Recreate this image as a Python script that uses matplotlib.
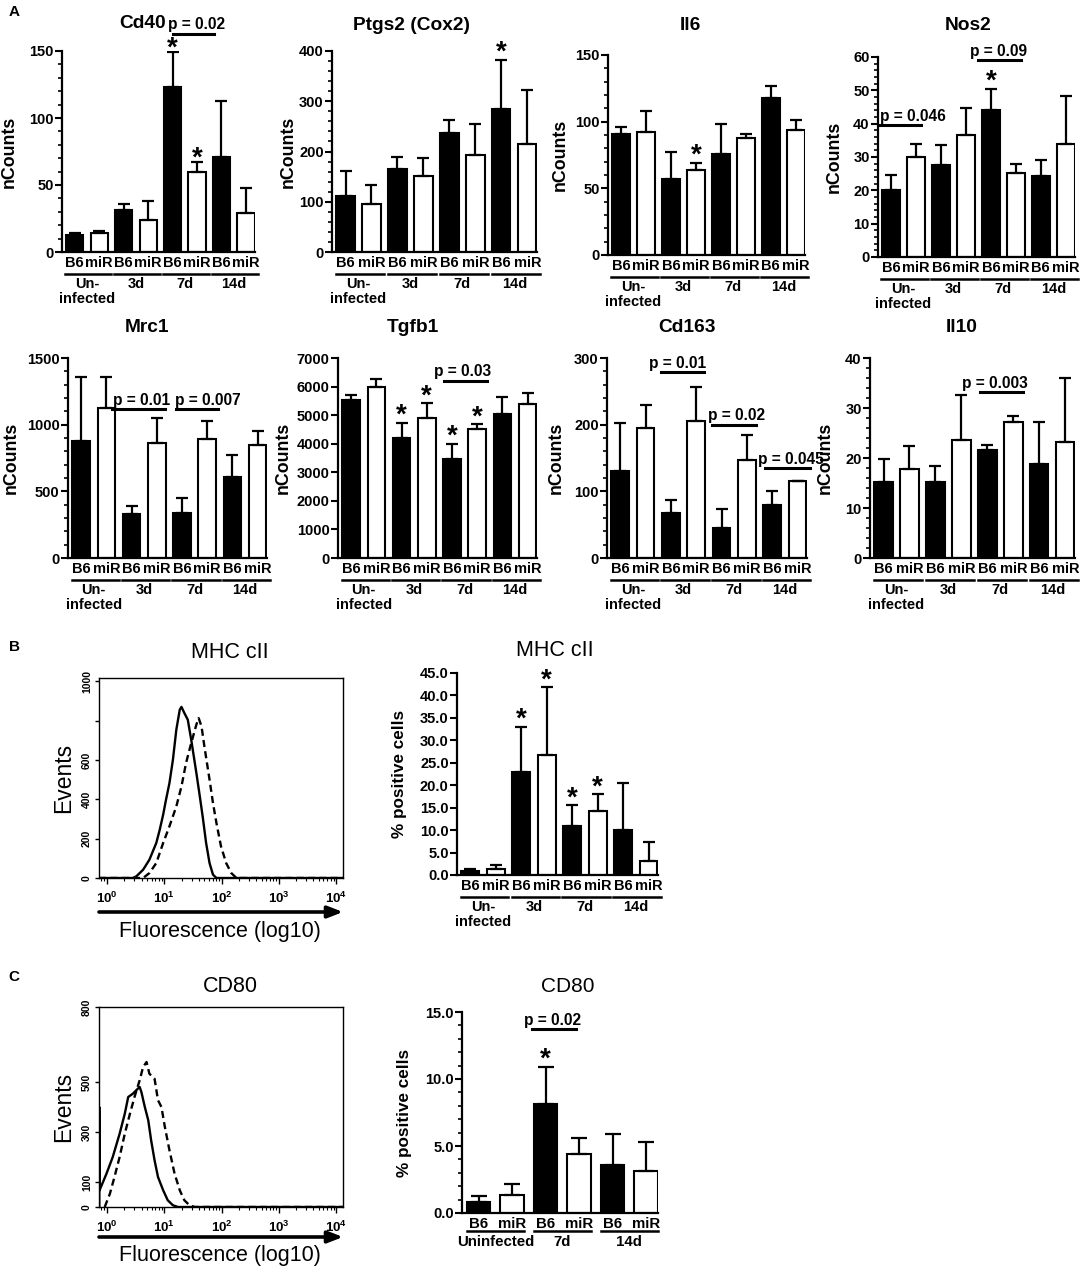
import numpy as np
import matplotlib
matplotlib.use('Agg')
import matplotlib.pyplot as plt
from matplotlib.ticker import MultipleLocator, NullLocator

plt.rcParams['font.family'] = ['Liberation Sans', 'DejaVu Sans']
plt.rcParams['mathtext.fontset'] = 'custom'
plt.rcParams['mathtext.rm'] = 'Liberation Sans'
plt.rcParams['mathtext.bf'] = 'Liberation Sans:bold'

W, H = 1084, 1270

# ---------------- data ----------------
strains = ['B6', 'miR']
time_groups = ['Un-\ninfected', '3d', '7d', '14d']
cd80_groups = ['Uninfected', '7d', '14d']

cd40_mean = [13, 14, 31, 24, 123, 60, 71, 29]
cd40_err = [1, 2, 5, 14, 26, 7, 42, 19]
ptgs2_mean = [112, 95, 165, 152, 236, 193, 284, 215]
ptgs2_err = [50, 38, 25, 36, 27, 61, 98, 107]
il6_mean = [91, 92, 57, 64, 76, 88, 118, 94]
il6_err = [5, 16, 20, 5, 22, 3, 9, 7]
nos2_mean = [20, 30, 27.7, 36.7, 44.2, 25.3, 24.2, 33.8]
nos2_err = [4.5, 4, 6, 8.1, 6.3, 2.7, 5, 14.5]

mrc1_mean = [880, 1125, 330, 860, 340, 890, 610, 845]
mrc1_err = [475, 230, 60, 190, 110, 140, 165, 105]
tgfb1_mean = [5530, 5980, 4200, 4890, 3470, 4530, 5040, 5400]
tgfb1_err = [190, 270, 530, 520, 530, 150, 610, 360]
cd163_mean = [130, 195, 68, 205, 45, 147, 80, 115]
cd163_err = [73, 35, 19, 52, 28, 38, 20, 1]
il10_mean = [15.3, 17.9, 15.3, 23.7, 21.6, 27.3, 18.9, 23.3]
il10_err = [4.5, 4.5, 3.1, 8.9, 1.0, 1.1, 8.3, 12.8]

mhc_mean = [1.0, 1.4, 23.0, 26.7, 11.0, 14.2, 10.1, 3.1]
mhc_err = [0.4, 0.9, 10.0, 15.1, 4.5, 3.8, 10.5, 4.3]
cd80_mean = [0.85, 1.35, 8.1, 4.4, 3.6, 3.1]
cd80_err = [0.45, 0.85, 2.8, 1.2, 2.3, 2.2]

# flow histograms: log10 fluorescence, events
mhc_solid_x = [-0.14, 0.45, 0.51, 0.63, 0.74, 0.86, 0.92, 0.98, 1.03, 1.09, 1.15, 1.21, 1.27,
               1.30, 1.35, 1.41, 1.47, 1.56, 1.62, 1.67, 1.73, 1.79, 1.85, 1.91, 4.12]
mhc_solid_y = [0, 0, 8, 42, 93, 178, 245, 322, 398, 483, 600, 754, 856,
               870, 839, 805, 703, 534, 415, 313, 178, 76, 17, 0, 0]
mhc_dash_x = [-0.14, 0.63, 0.74, 0.86, 0.98, 1.09, 1.21, 1.30, 1.38, 1.47, 1.56, 1.60, 1.65,
              1.70, 1.79, 1.85, 1.91, 1.99, 2.08, 2.17, 2.26, 4.12]
mhc_dash_y = [0, 0, 25, 76, 178, 263, 364, 466, 585, 686, 780, 813, 771,
              669, 500, 381, 280, 161, 76, 25, 0, 0]

cd80_solid_x = [-0.135, -0.135, -0.13, -0.01, 0.10, 0.22, 0.31, 0.37, 0.45, 0.51, 0.57, 0.60,
                0.66, 0.72, 0.77, 0.83, 0.89, 0.98, 1.06, 1.15, 1.24, 4.12]
cd80_solid_y = [0, 400, 67, 133, 200, 293, 373, 440, 453, 467, 480, 460,
                400, 347, 267, 187, 120, 67, 27, 7, 0, 0]
cd80_dash_x = [-0.04, 0.05, 0.13, 0.22, 0.31, 0.40, 0.48, 0.57, 0.63, 0.69, 0.74, 0.83,
               0.89, 0.95, 1.01, 1.09, 1.18, 1.27, 1.35, 1.44, 1.53, 4.12]
cd80_dash_y = [0, 53, 120, 200, 293, 373, 440, 507, 560, 580, 533, 513,
               427, 400, 320, 227, 133, 67, 27, 7, 0, 0]

fig = plt.figure(figsize=(W / 100, H / 100), dpi=100)


def px_axes(l, t, r, b):
    return fig.add_axes([l / W, 1 - b / H, (r - l) / W, (b - t) / H])


def fig_text(x, y, s, **kw):
    fig.text(x / W, 1 - y / H, s, ha='center', va='center', **kw)


def add_star(ax, x, y, dy=0):
    ax.annotate('*', (x, y), xytext=(0, dy), textcoords='offset points',
                ha='center', va='baseline', fontsize=20, fontweight='bold',
                annotation_clip=False)


def bar_panel(box, title, title_pos, means, errs, ymax, major, minor, ylab_x,
              stars=(), brackets=(), fmt='{:.0f}', groups=time_groups,
              ylabel='nCounts', title_kw=None, tick_fs=10.5, ylab_fs=12.8, star_dy=0):
    l, t, r, b = box
    hpx = b - t
    ax = px_axes(*box)
    n = len(means)
    x = np.arange(n)
    colors = ['black' if i % 2 == 0 else 'white' for i in range(n)]
    ax.bar(x, means, width=0.7, color=colors, edgecolor='black', linewidth=1.5, zorder=2)
    ax.errorbar(x, means, yerr=[np.zeros(n), errs], fmt='none', ecolor='black',
                elinewidth=1.6, capsize=4.5, capthick=1.6, zorder=3)
    ax.set_xlim(-0.52, n - 1 + 0.37)
    ax.set_ylim(0, ymax)
    for s in ['top', 'right']:
        ax.spines[s].set_visible(False)
    for s in ['left', 'bottom']:
        ax.spines[s].set_linewidth(1.6)
    ticks = np.arange(0, ymax + major / 2, major)
    ax.set_yticks(ticks, [fmt.format(v) for v in ticks], fontsize=tick_fs, fontweight='bold')
    if minor:
        ax.yaxis.set_minor_locator(MultipleLocator(minor))
    ax.tick_params(axis='y', which='major', length=5, width=1.5, pad=1)
    ax.tick_params(axis='y', which='minor', length=3, width=1.2)
    ax.set_xticks(x, [strains[i % 2] for i in range(n)], fontsize=10.5, fontweight='bold')
    ax.tick_params(axis='x', length=0, pad=3)
    ax.set_ylabel(ylabel, fontsize=ylab_fs, fontweight='bold')
    ax.yaxis.set_label_coords(ylab_x, 0.5)

    trans = ax.get_xaxis_transform()
    for g, name in enumerate(groups):
        ax.plot([2 * g - 0.38, 2 * g + 1 + 0.5], [-22 / hpx] * 2, color='black', lw=1.8,
                transform=trans, clip_on=False)
        ax.text(2 * g + 0.5, -25 / hpx, name, transform=trans, ha='center', va='top',
                fontsize=10.5, fontweight='bold', linespacing=1.05)

    for i in stars:
        add_star(ax, i, means[i] + errs[i], star_dy)
    for x0, x1, y, lab, tx in brackets:
        ax.plot([x0, x1], [y, y], color='black', lw=2.2, clip_on=False)
        ax.annotate(lab, (tx, y), xytext=(0, 1), textcoords='offset points', ha='center',
                    va='bottom', fontsize=11.2, fontweight='bold', annotation_clip=False)

    kw = dict(fontsize=13.8, fontweight='bold')
    if title_kw:
        kw = title_kw
    fig_text(title_pos[0], title_pos[1], title, **kw)
    return ax


def hist_panel(box, title, title_pos, sx, sy, dx, dy, ymax, yticks, ylabels, arrow_y, xlab_y):
    l, t, r, b = box
    ax = px_axes(*box)
    ax.plot(10 ** np.array(sx), sy, color='black', lw=1.7, zorder=3)
    ax.plot(10 ** np.array(dx), dy, color='black', lw=1.7, ls=(0, (3, 1.8)), zorder=3)
    ax.set_xscale('log')
    ax.set_xlim(10 ** -0.14, 10 ** 4.12)
    ax.set_ylim(0, ymax)
    for s in ax.spines.values():
        s.set_linewidth(1.0)
    ax.set_xticks([1, 10, 100, 1000, 10000],
                  [r'$\mathbf{10^{%d}}$' % k for k in range(5)], fontsize=9.5)
    ax.tick_params(axis='x', which='major', length=4, width=1.0, pad=5)
    ax.tick_params(axis='x', which='minor', length=2, width=0.8)
    ax.set_yticks(yticks, ylabels, fontsize=7.5, fontweight='bold', rotation=90, va='center')
    ax.yaxis.set_minor_locator(NullLocator())
    ax.tick_params(axis='y', length=3, width=1.0, pad=2)
    ax.annotate('', xy=(1.0, -(arrow_y - b) / (b - t)), xytext=(0.0, -(arrow_y - b) / (b - t)),
                xycoords='axes fraction',
                arrowprops=dict(arrowstyle='-|>,head_length=0.9,head_width=0.35', lw=2.6,
                                color='black', shrinkA=0, shrinkB=0))
    fig_text((l + r) / 2 - 1, xlab_y, 'Fluorescence (log10)', fontsize=15.5)
    fig_text(64, (t + b) / 2, 'Events', fontsize=16.5, rotation=90)
    fig_text(title_pos[0], title_pos[1], title, fontsize=15.5)
    return ax


# ---------------- panel A, row 1 ----------------
bar_panel((62, 51, 255, 252), 'Cd40', (143, 23), cd40_mean, cd40_err, 150, 50, 10, -0.23,
          stars=[4, 5], brackets=[(4.0, 5.68, 163, 'p = 0.02', 4.98)], star_dy=-2.5)
bar_panel((332, 51, 537, 252), 'Ptgs2 (Cox2)', (411, 25), ptgs2_mean, ptgs2_err, 400, 100, 20,
          -0.17, stars=[6])
bar_panel((608, 55, 805, 255), 'Il6', (690, 25), il6_mean, il6_err, 150, 50, 10, -0.20,
          stars=[3])
bar_panel((878, 57, 1075, 257), 'Nos2', (968, 25), nos2_mean, nos2_err, 60, 10, 2, -0.18,
          stars=[4], brackets=[(-0.47, 1.19, 39.5, 'p = 0.046', 0.87),
                               (3.48, 5.22, 59.1, 'p = 0.09', 4.3)])

# ---------------- panel A, row 2 ----------------
bar_panel((68, 358, 267, 558), 'Mrc1', (147, 328), mrc1_mean, mrc1_err, 1500, 500, 100, -0.24,
          brackets=[(1.24, 3.32, 1117, 'p = 0.01', 2.38), (3.76, 5.44, 1117, 'p = 0.007', 5.04)])
bar_panel((338, 358, 537, 558), 'Tgfb1', (413, 328), tgfb1_mean, tgfb1_err, 7000, 1000, None,
          -0.23, stars=[2, 3, 4, 5], brackets=[(3.68, 5.39, 6200, 'p = 0.03', 4.4)])
bar_panel((607, 358, 807, 558), 'Cd163', (687, 328), cd163_mean, cd163_err, 300, 100, 20, -0.21,
          brackets=[(1.6, 3.3, 279, 'p = 0.01', 2.26), (3.62, 5.35, 200, 'p = 0.02', 4.6),
                    (5.73, 7.5, 135, 'p = 0.045', 6.72)])
bar_panel((870, 358, 1075, 558), 'Il10', (962, 328), il10_mean, il10_err, 40, 10, 2, -0.175,
          brackets=[(3.71, 5.38, 33.2, 'p = 0.003', 4.27)])

# ---------------- panel B ----------------
hist_panel((99, 678, 343, 878), 'MHC cII', (230, 652), mhc_solid_x, mhc_solid_y,
           mhc_dash_x, mhc_dash_y, 1017, [0, 200, 400, 600, 800, 1000],
           ['0', '200', '400', '600', '', '1000'], 912, 932)
bar_panel((457, 673, 658, 875), 'MHC cII', (555, 650), mhc_mean, mhc_err, 45, 5, None, -0.25,
          stars=[2, 3, 4, 5], fmt='{:.1f}', ylabel='% positive cells', ylab_fs=12.3,
          title_kw=dict(fontsize=15.5))

# ---------------- panel C ----------------
hist_panel((99, 1007, 343, 1207), 'CD80', (230, 987), cd80_solid_x, cd80_solid_y,
           cd80_dash_x, cd80_dash_y, 800, [0, 100, 300, 500, 800],
           ['0', '100', '300', '500', '800'], 1237, 1255)

ax = px_axes(462, 1012, 658, 1213)
x = np.arange(len(cd80_mean))
colors = ['black' if i % 2 == 0 else 'white' for i in x]
ax.bar(x, cd80_mean, width=0.7, color=colors, edgecolor='black', linewidth=1.5, zorder=2)
ax.errorbar(x, cd80_mean, yerr=[np.zeros(len(x)), cd80_err], fmt='none', ecolor='black',
            elinewidth=1.6, capsize=6, capthick=1.6, zorder=3)
ax.set_xlim(-0.5, len(x) - 1 + 0.36)
ax.set_ylim(0, 15)
for s in ['top', 'right']:
    ax.spines[s].set_visible(False)
for s in ['left', 'bottom']:
    ax.spines[s].set_linewidth(1.6)
ax.set_yticks([0, 5, 10, 15], ['0.0', '5.0', '10.0', '15.0'], fontsize=10.5, fontweight='bold')
ax.yaxis.set_minor_locator(MultipleLocator(1))
ax.tick_params(axis='y', which='major', length=5, width=1.5, pad=1)
ax.tick_params(axis='y', which='minor', length=3, width=1.2)
ax.set_xticks(x, [strains[i % 2] for i in x], fontsize=10.8, fontweight='bold')
ax.tick_params(axis='x', length=0, pad=3)
ax.set_ylabel('% positive cells', fontsize=12.3, fontweight='bold')
ax.yaxis.set_label_coords(-0.255, 0.5)
trans = ax.get_xaxis_transform()
for g, name in enumerate(cd80_groups):
    ax.plot([2 * g - 0.35, 2 * g + 1.35], [-18 / 201] * 2, color='black', lw=1.8,
            transform=trans, clip_on=False)
    ax.text(2 * g + 0.5, -22 / 201, name, transform=trans, ha='center', va='top',
            fontsize=10.8, fontweight='bold')
add_star(ax, 2, cd80_mean[2] + cd80_err[2])
ax.plot([1.6, 2.9], [13.7, 13.7], color='black', lw=2.2, clip_on=False)
ax.annotate('p = 0.02', (2.2, 13.7), xytext=(0, 1), textcoords='offset points', ha='center',
            va='bottom', fontsize=11.2, fontweight='bold')
fig_text(568, 987, 'CD80', fontsize=15)

# panel letters
fig_text(14, 12, 'A', fontsize=11, fontweight='bold')
fig_text(14, 647, 'B', fontsize=11, fontweight='bold')
fig_text(14, 977, 'C', fontsize=11, fontweight='bold')

fig.savefig('out.png', dpi=100)
